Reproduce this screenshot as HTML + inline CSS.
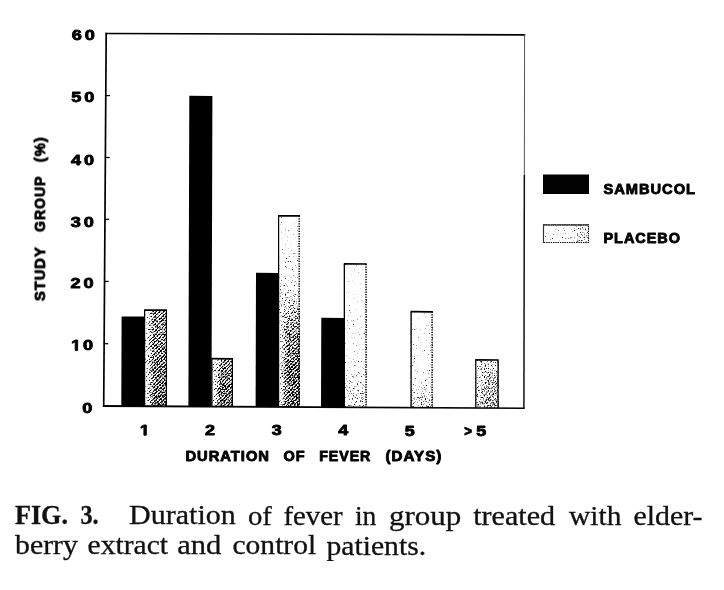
<!DOCTYPE html>
<html><head><meta charset="utf-8"><title>FIG. 3</title>
<style>html,body{margin:0;padding:0;background:#fff;}svg{display:block;}.s{font-family:"Liberation Sans",sans-serif;font-weight:bold;fill:#000;stroke:#000;stroke-width:0.9px;stroke-linejoin:round;}.c{font-family:"Liberation Serif",serif;fill:#111;stroke:#111;stroke-width:0.3px;}</style></head><body>
<svg width="724" height="590" viewBox="0 0 724 590">
<defs>
<filter id="nz" x="0" y="0" width="100%" height="100%" color-interpolation-filters="sRGB">
<feTurbulence type="fractalNoise" baseFrequency="0.75" numOctaves="2" seed="7" result="t"/>
<feColorMatrix in="t" type="matrix" values="1 0 0 0 0  1 0 0 0 0  1 0 0 0 0  0 0 0 0 1" result="g"/>
<feComposite in="g" in2="SourceGraphic" operator="arithmetic" k1="0" k2="1" k3="1" k4="-0.5" result="m"/>
<feComponentTransfer in="m" result="th"><feFuncR type="linear" slope="5" intercept="-2"/><feFuncG type="linear" slope="5" intercept="-2"/><feFuncB type="linear" slope="5" intercept="-2"/></feComponentTransfer>
<feComposite in="th" in2="SourceAlpha" operator="in"/>
</filter>

<linearGradient id="g1" x1="0" y1="0" x2="0" y2="1"><stop offset="0" stop-color="rgb(138,138,138)"/><stop offset="0.45" stop-color="rgb(128,128,128)"/><stop offset="1" stop-color="rgb(115,115,115)"/></linearGradient>
<linearGradient id="g2" x1="0" y1="0" x2="0" y2="1"><stop offset="0" stop-color="rgb(143,143,143)"/><stop offset="0.3" stop-color="rgb(128,128,128)"/><stop offset="1" stop-color="rgb(117,117,117)"/></linearGradient>
<linearGradient id="g3" x1="0" y1="0" x2="0" y2="1"><stop offset="0" stop-color="rgb(204,204,204)"/><stop offset="0.3" stop-color="rgb(191,191,191)"/><stop offset="0.5" stop-color="rgb(163,163,163)"/><stop offset="0.62" stop-color="rgb(135,135,135)"/><stop offset="0.8" stop-color="rgb(120,120,120)"/><stop offset="1" stop-color="rgb(115,115,115)"/></linearGradient>
<linearGradient id="g4" x1="0" y1="0" x2="0" y2="1"><stop offset="0" stop-color="rgb(204,204,204)"/><stop offset="0.6" stop-color="rgb(196,196,196)"/><stop offset="0.85" stop-color="rgb(181,181,181)"/><stop offset="1" stop-color="rgb(171,171,171)"/></linearGradient>
<linearGradient id="g5" x1="0" y1="0" x2="0" y2="1"><stop offset="0" stop-color="rgb(204,204,204)"/><stop offset="0.65" stop-color="rgb(196,196,196)"/><stop offset="0.85" stop-color="rgb(176,176,176)"/><stop offset="1" stop-color="rgb(161,161,161)"/></linearGradient>
<linearGradient id="g6" x1="0" y1="0" x2="0" y2="1"><stop offset="0" stop-color="rgb(173,173,173)"/><stop offset="0.4" stop-color="rgb(158,158,158)"/><stop offset="1" stop-color="rgb(145,145,145)"/></linearGradient>
<linearGradient id="gl" x1="0" y1="0" x2="1" y2="0"><stop offset="0" stop-color="rgb(207,207,207)"/><stop offset="0.55" stop-color="rgb(194,194,194)"/><stop offset="0.8" stop-color="rgb(163,163,163)"/><stop offset="1" stop-color="rgb(170,170,170)"/></linearGradient>
<pattern id="hatch" patternUnits="userSpaceOnUse" width="2.6" height="2.6" patternTransform="rotate(45)"><rect x="0" y="0" width="1.2" height="2.6" fill="#000" fill-opacity="0.38"/><rect x="1.2" y="0" width="1.4" height="2.6" fill="#fff" fill-opacity="0.32"/></pattern>
<linearGradient id="hl" x1="0" y1="0" x2="1" y2="0"><stop offset="0" stop-color="#fff" stop-opacity="0.55"/><stop offset="0.22" stop-color="#fff" stop-opacity="0.3"/><stop offset="0.45" stop-color="#fff" stop-opacity="0"/><stop offset="1" stop-color="#fff" stop-opacity="0"/></linearGradient>
<linearGradient id="mgg1" x1="0" y1="0" x2="0" y2="1"><stop offset="0.0" stop-color="#000"/><stop offset="0.001" stop-color="#fff"/></linearGradient>
<mask id="mg1" maskContentUnits="objectBoundingBox"><rect width="1" height="1" fill="url(#mgg1)"/></mask>
<linearGradient id="mgg2" x1="0" y1="0" x2="0" y2="1"><stop offset="0.0" stop-color="#000"/><stop offset="0.001" stop-color="#fff"/></linearGradient>
<mask id="mg2" maskContentUnits="objectBoundingBox"><rect width="1" height="1" fill="url(#mgg2)"/></mask>
<linearGradient id="mgg3" x1="0" y1="0" x2="0" y2="1"><stop offset="0.4" stop-color="#000"/><stop offset="0.65" stop-color="#fff"/></linearGradient>
<mask id="mg3" maskContentUnits="objectBoundingBox"><rect width="1" height="1" fill="url(#mgg3)"/></mask>
<linearGradient id="mgg4" x1="0" y1="0" x2="0" y2="1"><stop offset="0.8" stop-color="#000"/><stop offset="1.0" stop-color="#222"/></linearGradient>
<mask id="mg4" maskContentUnits="objectBoundingBox"><rect width="1" height="1" fill="url(#mgg4)"/></mask>
<linearGradient id="mgg5" x1="0" y1="0" x2="0" y2="1"><stop offset="0.85" stop-color="#000"/><stop offset="1.0" stop-color="#222"/></linearGradient>
<mask id="mg5" maskContentUnits="objectBoundingBox"><rect width="1" height="1" fill="url(#mgg5)"/></mask>
<linearGradient id="mgg6" x1="0" y1="0" x2="0" y2="1"><stop offset="0.0" stop-color="#000"/><stop offset="0.3" stop-color="#777"/></linearGradient>
<mask id="mg6" maskContentUnits="objectBoundingBox"><rect width="1" height="1" fill="url(#mgg6)"/></mask>
</defs>
<rect width="724" height="590" fill="#fff"/>
<g filter="url(#nz)">
<rect x="144.0" y="310.1" width="23.0" height="96.1" fill="url(#g1)"/>
<rect x="144.0" y="310.1" width="23.0" height="96.1" fill="url(#hatch)" mask="url(#mg1)"/>
<rect x="144.0" y="310.1" width="23.0" height="96.1" fill="url(#hl)" mask="url(#mg1)"/>
<rect x="211.3" y="358.7" width="21.7" height="47.8" fill="url(#g2)"/>
<rect x="211.3" y="358.7" width="21.7" height="47.8" fill="url(#hatch)" mask="url(#mg2)"/>
<rect x="211.3" y="358.7" width="21.7" height="47.8" fill="url(#hl)" mask="url(#mg2)"/>
<rect x="278.0" y="215.8" width="22.0" height="191.1" fill="url(#g3)"/>
<rect x="278.0" y="215.8" width="22.0" height="191.1" fill="url(#hatch)" mask="url(#mg3)"/>
<rect x="278.0" y="215.8" width="22.0" height="191.1" fill="url(#hl)" mask="url(#mg3)"/>
<rect x="343.8" y="263.9" width="23.0" height="143.4" fill="url(#g4)"/>
<rect x="343.8" y="263.9" width="23.0" height="143.4" fill="url(#hatch)" mask="url(#mg4)"/>
<rect x="343.8" y="263.9" width="23.0" height="143.4" fill="url(#hl)" mask="url(#mg4)"/>
<rect x="410.6" y="311.7" width="22.3" height="95.9" fill="url(#g5)"/>
<rect x="410.6" y="311.7" width="22.3" height="95.9" fill="url(#hatch)" mask="url(#mg5)"/>
<rect x="410.6" y="311.7" width="22.3" height="95.9" fill="url(#hl)" mask="url(#mg5)"/>
<rect x="475.2" y="359.9" width="23.4" height="48.1" fill="url(#g6)"/>
<rect x="475.2" y="359.9" width="23.4" height="48.1" fill="url(#hatch)" mask="url(#mg6)"/>
<rect x="475.2" y="359.9" width="23.4" height="48.1" fill="url(#hl)" mask="url(#mg6)"/>
</g>
<line x1="144.6" y1="310.1" x2="144.6" y2="406.2" stroke="#000" stroke-width="1.2"/>
<line x1="166.4" y1="310.1" x2="166.4" y2="406.2" stroke="#000" stroke-width="1.2"/>
<line x1="144.0" y1="310.1" x2="167.0" y2="310.20000000000005" stroke="#000" stroke-width="1.7"/>
<line x1="211.9" y1="358.7" x2="211.9" y2="406.5" stroke="#000" stroke-width="1.2"/>
<line x1="232.4" y1="358.7" x2="232.4" y2="406.5" stroke="#000" stroke-width="1.2"/>
<line x1="211.3" y1="358.7" x2="233.0" y2="358.8" stroke="#000" stroke-width="1.7"/>
<line x1="278.6" y1="215.8" x2="278.6" y2="406.9" stroke="#000" stroke-width="1.2"/>
<line x1="299.2" y1="215.8" x2="299.2" y2="406.9" stroke="#000" stroke-width="1.5" stroke-dasharray="1.3 1.2"/>
<line x1="278.0" y1="215.8" x2="300.0" y2="215.9" stroke="#000" stroke-width="1.7"/>
<line x1="344.40000000000003" y1="263.9" x2="344.40000000000003" y2="407.3" stroke="#000" stroke-width="1.2"/>
<line x1="366.0" y1="263.9" x2="366.0" y2="407.3" stroke="#000" stroke-width="1.5" stroke-dasharray="1.3 1.2"/>
<line x1="343.8" y1="263.9" x2="366.8" y2="264.0" stroke="#000" stroke-width="1.7"/>
<line x1="411.20000000000005" y1="311.7" x2="411.20000000000005" y2="407.6" stroke="#000" stroke-width="1.2"/>
<line x1="432.09999999999997" y1="311.7" x2="432.09999999999997" y2="407.6" stroke="#000" stroke-width="1.5" stroke-dasharray="1.3 1.2"/>
<line x1="410.6" y1="311.7" x2="432.9" y2="311.8" stroke="#000" stroke-width="1.7"/>
<line x1="475.8" y1="359.9" x2="475.8" y2="408.0" stroke="#000" stroke-width="1.2"/>
<line x1="498.0" y1="359.9" x2="498.0" y2="408.0" stroke="#000" stroke-width="1.2"/>
<line x1="475.2" y1="359.9" x2="498.6" y2="360.0" stroke="#000" stroke-width="1.7"/>
<polygon points="121.6,316.4 144.3,316.5 144.0,406.1 121.3,406.1" fill="#000"/>
<polygon points="189.3,95.8 212.4,95.9 211.5,406.4 188.4,406.4" fill="#000"/>
<polygon points="256.0,272.8 278.4,272.9 278.0,406.8 255.6,406.8" fill="#000"/>
<polygon points="321.3,317.8 344.5,317.9 344.2,407.2 321.0,407.2" fill="#000"/>
<line x1="106.2" y1="32.7" x2="103.7" y2="406.5" stroke="#000" stroke-width="1.7"/>
<line x1="105.4" y1="33.5" x2="525.2" y2="34.9" stroke="#000" stroke-width="1.7"/>
<line x1="524.6" y1="34.5" x2="524.35" y2="175" stroke="#555" stroke-width="1.0"/>
<line x1="524.35" y1="175" x2="523.9" y2="408.6" stroke="#111" stroke-width="1.5"/>
<polygon points="102.9,404.9 524.6,407.5 524.6,408.9 102.9,407.0" fill="#000"/>
<line x1="105.8" y1="95.6" x2="110.0" y2="95.6" stroke="#000" stroke-width="1.2"/>
<line x1="105.4" y1="157.5" x2="109.6" y2="157.5" stroke="#000" stroke-width="1.2"/>
<line x1="105.0" y1="219.3" x2="109.2" y2="219.3" stroke="#000" stroke-width="1.2"/>
<line x1="104.5" y1="281.4" x2="108.7" y2="281.4" stroke="#000" stroke-width="1.2"/>
<line x1="104.1" y1="343.7" x2="108.3" y2="343.7" stroke="#000" stroke-width="1.2"/>
<g style="opacity:0.999">
<text class="s" transform="translate(71.66 40.05) scale(1.1700 1)" font-size="15.5">6</text>
<text class="s" transform="translate(84.66 40.05) scale(1.1700 1)" font-size="15.5">0</text>
<text class="s" transform="translate(71.34 102.40) scale(1.1700 1)" font-size="15.5">5</text>
<text class="s" transform="translate(84.34 102.40) scale(1.1700 1)" font-size="15.5">0</text>
<text class="s" transform="translate(71.02 164.70) scale(1.1700 1)" font-size="15.5">4</text>
<text class="s" transform="translate(84.02 164.70) scale(1.1700 1)" font-size="15.5">0</text>
<text class="s" transform="translate(70.70 226.50) scale(1.1700 1)" font-size="15.5">3</text>
<text class="s" transform="translate(83.70 226.50) scale(1.1700 1)" font-size="15.5">0</text>
<text class="s" transform="translate(70.39 288.20) scale(1.1700 1)" font-size="15.5">2</text>
<text class="s" transform="translate(83.39 288.20) scale(1.1700 1)" font-size="15.5">0</text>
<path d="M478,0 L478,1170 L140,959 L140,1180 L493,1409 L759,1409 L759,0 Z" class="s" vector-effect="non-scaling-stroke" transform="translate(70.97 350.40) scale(0.008855 -0.007341)"/>
<text class="s" transform="translate(83.07 350.20) scale(1.1700 1)" font-size="15.5">0</text>
<text class="s" transform="translate(82.36 412.90) scale(1.1700 1)" font-size="15.5">0</text>
<path d="M478,0 L478,1170 L140,959 L140,1180 L493,1409 L759,1409 L759,0 Z" class="s" vector-effect="non-scaling-stroke" transform="translate(139.72 435.20) scale(0.008741 -0.007247)"/>
<text class="s" transform="translate(205.12 435.20) scale(1.1700 1)" font-size="15.3">2</text>
<text class="s" transform="translate(271.72 435.30) scale(1.1700 1)" font-size="15.3">3</text>
<text class="s" transform="translate(338.22 435.40) scale(1.1700 1)" font-size="15.3">4</text>
<text class="s" transform="translate(404.82 435.50) scale(1.1700 1)" font-size="15.3">5</text>
<text class="s" transform="translate(464.25 435.60) scale(0.8618 1)" font-size="15.3" letter-spacing="0">&gt;</text>
<text class="s" transform="translate(476.22 435.60) scale(1.1700 1)" font-size="15.3">5</text>
<text class="s" transform="translate(185.45 460.60) scale(0.9830 1)" font-size="15" letter-spacing="1.0">DURATION</text>
<text class="s" transform="translate(283.45 460.72) scale(0.9667 1)" font-size="15" letter-spacing="1.0">OF</text>
<text class="s" transform="translate(319.25 460.76) scale(0.9461 1)" font-size="15" letter-spacing="1.0">FEVER</text>
<text class="s" transform="translate(385.45 460.84) scale(1.0111 1)" font-size="15" letter-spacing="1.0">(DAYS)</text>
<g transform="translate(44.9,301.5) rotate(-90)">
<text class="s" transform="translate(0.45 0.00) scale(0.9811 1)" font-size="15" letter-spacing="1.0">STUDY</text>
<text class="s" transform="translate(69.45 0.00) scale(0.9423 1)" font-size="15" letter-spacing="1.0">GROUP</text>
<text class="s" transform="translate(139.35 0.00) scale(0.9793 1)" font-size="15" letter-spacing="1.0">(%)</text>
</g>
<rect x="543" y="174.5" width="46" height="19.5" fill="#000"/>
<g filter="url(#nz)"><rect x="543" y="224.5" width="46" height="18.5" fill="url(#gl)"/></g>
<rect x="543.5" y="225" width="45" height="17.5" fill="none" stroke="#000" stroke-width="1.1" stroke-dasharray="1.4 0.9"/>
<path d="M543.5,243 V225 H588.5" fill="none" stroke="#333" stroke-width="1.1"/>
<text class="s" transform="translate(603.45 194.00) scale(0.9780 1)" font-size="15" letter-spacing="1.0">SAMBUCOL</text>
<text class="s" transform="translate(603.45 243.00) scale(0.9655 1)" font-size="15" letter-spacing="1.0">PLACEBO</text>
<text class="c" transform="translate(15.00 524.30) scale(0.9862 1)" font-size="26.5" font-weight="bold">FIG.</text>
<text class="c" transform="translate(80.40 524.40) scale(0.9157 1)" font-size="26.5" font-weight="bold">3.</text>
<text class="c" transform="translate(129.10 524.48) scale(1.1328 1)" font-size="26.5">Duration</text>
<text class="c" transform="translate(247.90 524.67) scale(1.0820 1)" font-size="26.5">of</text>
<text class="c" transform="translate(283.40 524.73) scale(1.0860 1)" font-size="26.5">fever</text>
<text class="c" transform="translate(354.90 524.84) scale(1.0428 1)" font-size="26.5">in</text>
<text class="c" transform="translate(388.90 524.90) scale(1.1694 1)" font-size="26.5">group</text>
<text class="c" transform="translate(473.20 525.03) scale(1.1362 1)" font-size="26.5">treated</text>
<text class="c" transform="translate(569.10 525.18) scale(1.1100 1)" font-size="26.5">with</text>
<text class="c" transform="translate(633.50 525.29) scale(1.1281 1)" font-size="26.5">elder-</text>
<text class="c" transform="translate(15.00 554.00) scale(1.1267 1)" font-size="26.5">berry</text>
<text class="c" transform="translate(87.50 554.12) scale(1.1182 1)" font-size="26.5">extract</text>
<text class="c" transform="translate(177.20 554.26) scale(1.1551 1)" font-size="26.5">and</text>
<text class="c" transform="translate(232.50 554.35) scale(1.1151 1)" font-size="26.5">control</text>
<text class="c" transform="translate(326.50 554.50) scale(1.1196 1)" font-size="26.5">patients.</text>
</g>
</svg></body></html>
